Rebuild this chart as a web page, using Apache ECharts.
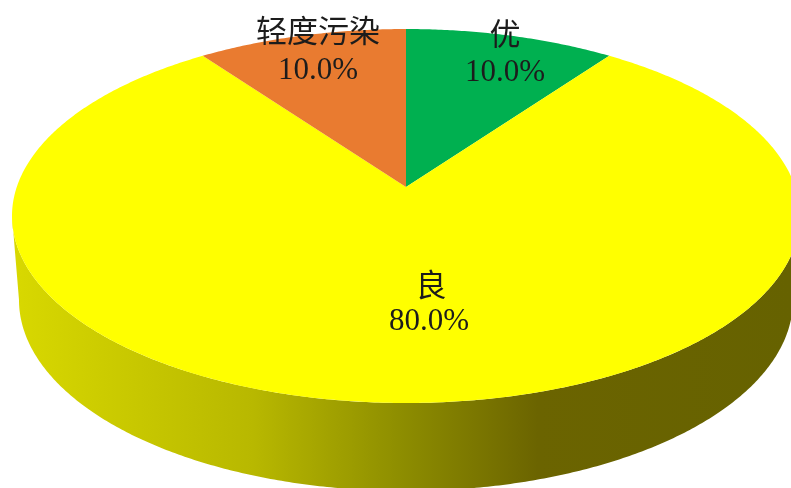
<!DOCTYPE html>
<html><head><meta charset="utf-8">
<style>html,body{margin:0;padding:0;background:#fff}#c{width:791px;height:488px}</style>
<script src="https://cdn.jsdelivr.net/npm/echarts@6/dist/echarts.min.js"></script>
</head><body><div id="c"></div>
<script>
var categories = ['优', '良', '轻度污染'];
var values = [10, 80, 10];
var sliceColors = ['#00B050', '#FFFF00', '#E97B30'];
var labelPos = [[505, 33, 505, 73], [431, 284, 429, 322], [318, 30, 318, 71]];

var top_ = {cx: 406, cy: 216, rx: 394, ry: 187};
var bottom_ = {cx: 406, cy: 300, rx: 387, ry: 191};
var persp = 29 / 187; // perspective shift of the pie centre
var total = values.reduce(function (a, b) { return a + b; }, 0);

// data angle (deg, clockwise from top) -> point on a projected rim
function rim(e, deg) {
  var t = deg * Math.PI / 180, x = Math.sin(t), y = Math.cos(t);
  var d = 1 + persp * y;
  return [e.cx + e.rx * x * Math.sqrt(1 - persp * persp) / d, e.cy - e.ry * (y + persp) / d];
}
var frontA = Math.acos(-persp) * 180 / Math.PI, frontB = 360 - frontA;
var wallFill = {type: 'linear', x: 0, y: 0, x2: 791, y2: 0, global: true, colorStops: [
  {offset: 0.02, color: '#d8d800'}, {offset: 0.13, color: '#cccc00'}, {offset: 0.32, color: '#b8b800'},
  {offset: 0.5, color: '#8f8f00'}, {offset: 0.68, color: '#6b6400'}, {offset: 1, color: '#666200'}
]};
function starts(i) {
  var s = 0; for (var k = 0; k < i; k++) s += values[k];
  return s / total * 360;
}
function renderSlice(params, api) {
  var i = params.dataIndex, a0 = starts(i), a1 = a0 + api.value(0) / total * 360;
  var children = [];
  var w0 = Math.max(a0, frontA), w1 = Math.min(a1, frontB);
  if (w1 > w0) {
    var wall = [], d;
    for (d = w0; d < w1; d += 0.5) wall.push(rim(top_, d));
    wall.push(rim(top_, w1));
    for (d = w1; d > w0; d -= 0.5) wall.push(rim(bottom_, d));
    wall.push(rim(bottom_, w0));
    children.push({type: 'polygon', shape: {points: wall}, style: {fill: wallFill}, z2: 1});
  }
  var pts = [[top_.cx, top_.cy - top_.ry * persp]];
  for (var a = a0; a < a1; a += 0.5) pts.push(rim(top_, a));
  pts.push(rim(top_, a1));
  children.push({type: 'polygon', shape: {points: pts}, style: {fill: sliceColors[i]}, z2: 2});
  return {type: 'group', children: children};
}
function renderLabel(params, api) {
  var i = params.dataIndex, p = labelPos[i];
  var pct = (api.value(0) / total * 100).toFixed(1) + '%';
  return {type: 'group', children: [
    {type: 'text', z2: 5, style: {x: p[0], y: p[1], text: categories[i], fill: '#1c1c1c', align: 'center', verticalAlign: 'middle',
      font: '31px "Noto Sans CJK SC"'}},
    {type: 'text', z2: 5, style: {x: p[2], y: p[3], text: pct, fill: '#1c1c1c', align: 'center', verticalAlign: 'middle',
      font: '31px "Liberation Serif"'}}
  ]};
}
var chart = echarts.init(document.getElementById('c'), null, {renderer: 'canvas'});
var data = values.map(function (v, i) { return {name: categories[i], value: v}; });
chart.setOption({
  animation: false,
  backgroundColor: '#fff',
  series: [
    {type: 'custom', coordinateSystem: 'none', silent: true, z: 2, renderItem: renderSlice, data: data},
    {type: 'custom', coordinateSystem: 'none', silent: true, z: 3, renderItem: renderLabel, data: data}
  ]
});
</script></body></html>
